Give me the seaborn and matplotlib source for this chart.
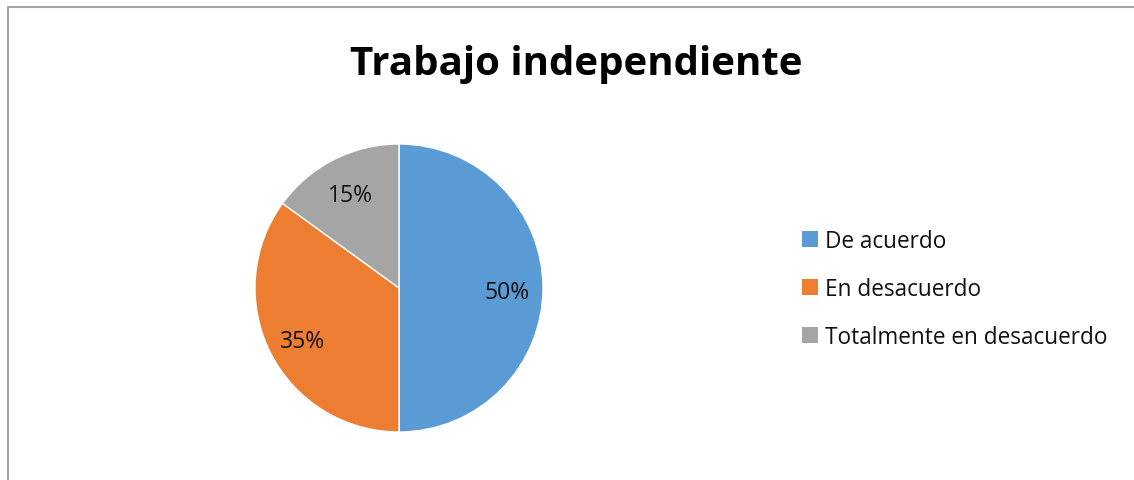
import matplotlib
matplotlib.use("Agg")
import matplotlib.pyplot as plt
import seaborn as sns
from matplotlib.lines import Line2D
from matplotlib.patches import Patch

categorias = ["De acuerdo", "En desacuerdo", "Totalmente en desacuerdo"]
porcentajes = [50, 35, 15]
colores = ["#5B9BD5", "#ED7D31", "#A5A5A5"]
titulo = "Trabajo independiente"

sns.set_theme(style="white")
plt.rcParams['font.family'] = ['Open Sans', 'DejaVu Sans']

W, H = 1134, 481
fig = plt.figure(figsize=(W / 100, H / 100), dpi=100)
fig.patch.set_facecolor("white")

# pie area: center (399, 288), radius 144 px
ax = fig.add_axes([255 / W, (H - 433) / H, 288 / W, 288 / H])
wedges, texts, autotexts = ax.pie(
    porcentajes, colors=colores, startangle=90, counterclock=False,
    autopct="%d%%", pctdistance=0.75, radius=1.0,
    wedgeprops=dict(edgecolor="white", linewidth=1),
    textprops=dict(fontsize=16.5, color="#111111"))
for t in autotexts:
    x, y = t.get_position()
    t.set_position((x, y - 0.025))
ax.set_aspect("equal")
ax.set_xlim(-1, 1)
ax.set_ylim(-1, 1)
ax.axis("off")

fig.text(576 / W, 1 - 64 / H, titulo, ha="center", va="center",
         fontsize=29, fontweight="bold", color="black")

handles = [Patch(facecolor=c, edgecolor="none") for c in colores]
fig.legend(handles, categorias, loc="center left",
           bbox_to_anchor=(782 / W, 1 - 290 / H), frameon=False,
           fontsize=16.3, handlelength=0.7, handleheight=0.7,
           handletextpad=0.3, labelspacing=1.07, labelcolor="#111111")

# chart border (top and left visible)
fig.add_artist(Line2D([8 / W, 1], [1 - 8 / H, 1 - 8 / H], color="#A6A6A6", lw=1.5))
fig.add_artist(Line2D([8 / W, 8 / W], [0, 1 - 8 / H], color="#A6A6A6", lw=1.5))

fig.savefig("out.png", dpi=100, facecolor="white")
